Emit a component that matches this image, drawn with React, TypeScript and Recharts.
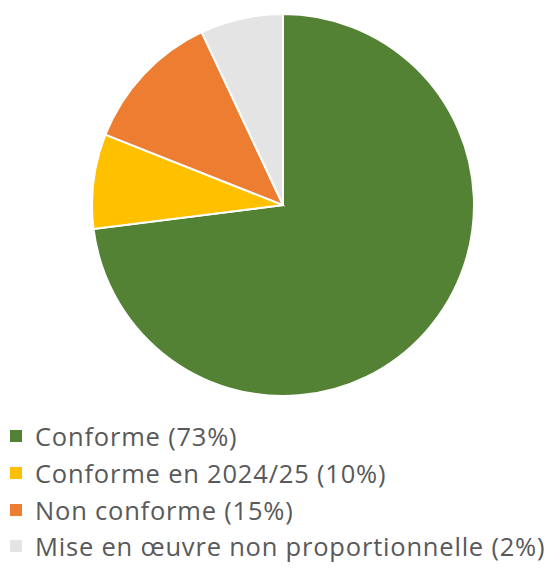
import { PieChart, Pie, Cell, Legend } from 'recharts'

const labels = [
  'Conforme (73%)',
  'Conforme en 2024/25 (10%)',
  'Non conforme (15%)',
  'Mise en œuvre non proportionnelle (2%)',
]
const values = [73, 8, 12, 7]
const colors = ['#548235', '#FFC000', '#ED7D31', '#E4E4E4']

const data = labels.map((name, i) => ({ name, value: values[i] }))

function LegendBox() {
  return (
    <div style={{ fontFamily: '"Open Sans", sans-serif', fontSize: 25.5, letterSpacing: 0.8, color: '#595959' }}>
      {data.map((d, i) => (
        <div key={d.name} style={{ display: 'flex', alignItems: 'center', height: 36.7, whiteSpace: 'nowrap' }}>
          <span style={{ display: 'inline-block', width: 12, height: 12, background: colors[i], marginLeft: 10, marginRight: 13, flexShrink: 0 }} />
          <span>{d.name}</span>
        </div>
      ))}
    </div>
  )
}

export default function App() {
  return (
    <div style={{ position: 'absolute', left: 0, top: 0, background: '#fff', overflow: 'hidden' }}>
      <PieChart width={557} height={584} margin={{ top: 0, right: 0, bottom: 0, left: 0 }}>
        <Pie data={data} dataKey="value" nameKey="name"
             cx={283} cy={205} outerRadius={191}
             startAngle={90} endAngle={-270}
             stroke="#fff" strokeWidth={2}
             isAnimationActive={false}>
          {data.map((d, i) => <Cell key={d.name} fill={colors[i]} />)}
        </Pie>
        <Legend content={<LegendBox />}
                wrapperStyle={{ left: 0, top: 418, width: 557, overflow: 'hidden' }} />
      </PieChart>
    </div>
  )
}
